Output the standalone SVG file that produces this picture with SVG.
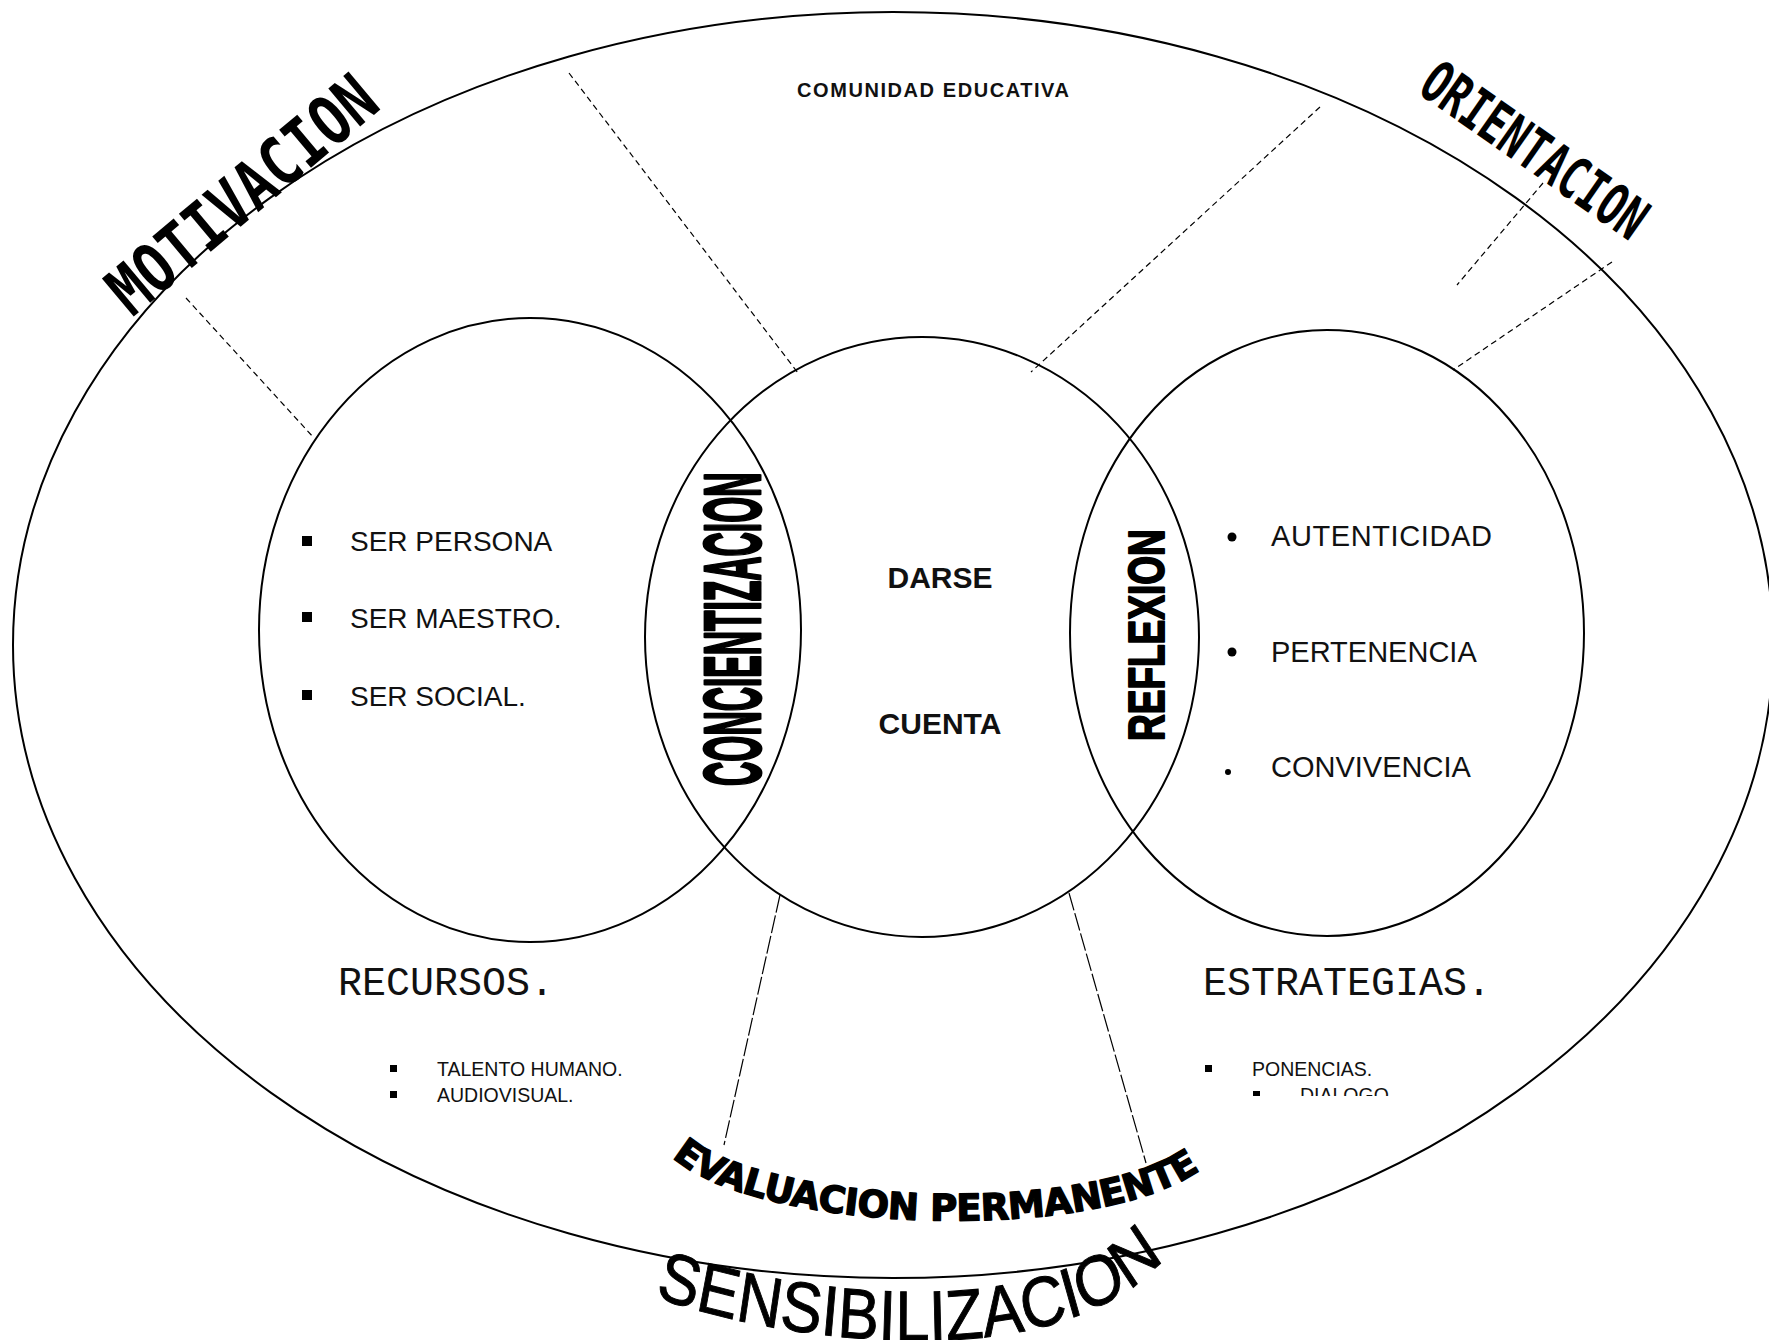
<svg xmlns="http://www.w3.org/2000/svg" width="1769" height="1340" viewBox="0 0 1769 1340">
<defs>
<style>
.ring{fill:none;stroke:#000;stroke-width:2}
.dash{fill:none;stroke:#000;stroke-width:1.2;stroke-dasharray:6 4}
.dash2{fill:none;stroke:#000;stroke-width:1.2;stroke-dasharray:18 3}
.item{font-family:"Liberation Sans",Arial,sans-serif;fill:#111}
.mono{font-family:"Liberation Mono","Courier New",monospace;fill:#111;font-size:40px}
.word{font-family:"DejaVu Sans Mono",monospace;font-weight:bold;fill:#000}
.vert{font-family:"Liberation Sans",Arial,sans-serif;font-weight:bold;fill:#000;stroke:#000;stroke-linejoin:round}
.sq{fill:#000}
</style>
<path id="p-eval" d="M 672 1157 C 760 1236 1118 1246 1210 1162"/>
<path id="p-sens" d="M 616.9 1297 C 760.6 1342 1082.4 1382 1203.1 1257"/>
<clipPath id="clip-dialogo"><rect x="1240" y="1080" width="220" height="16"/></clipPath>
</defs>
<rect width="1769" height="1340" fill="#fff"/>

<g id="comunidad-educativa">
<ellipse class="ring" cx="893" cy="645" rx="880" ry="633"/>
<text class="item" x="797" y="97" font-size="20" font-weight="bold" textLength="272" lengthAdjust="spacing">COMUNIDAD EDUCATIVA</text>
</g>

<g id="connectors">
<line class="dash" x1="186" y1="298" x2="314" y2="438"/>
<line class="dash" x1="569" y1="73" x2="798" y2="373"/>
<line class="dash" x1="1320" y1="107" x2="1031" y2="372"/>
<line class="dash" x1="1543" y1="183" x2="1457" y2="285"/>
<line class="dash" x1="1612" y1="262" x2="1453" y2="370"/>
<line class="dash2" x1="780" y1="895" x2="724" y2="1145"/>
<line class="dash2" x1="1069" y1="893" x2="1146" y2="1163"/>
</g>

<g id="circle-left">
<ellipse class="ring" cx="530" cy="630" rx="271" ry="312"/>
<rect class="sq" x="302" y="536" width="10" height="10"/>
<rect class="sq" x="302" y="612" width="10" height="10"/>
<rect class="sq" x="302" y="690" width="10" height="10"/>
<text class="item" font-size="28" x="350" y="551">SER PERSONA</text>
<text class="item" font-size="28" x="350" y="628">SER MAESTRO.</text>
<text class="item" font-size="28" x="350" y="706">SER SOCIAL.</text>
</g>

<g id="circle-center">
<ellipse class="ring" cx="922" cy="637" rx="277" ry="300"/>
<text class="item" font-size="30" font-weight="bold" x="940" y="588" text-anchor="middle">DARSE</text>
<text class="item" font-size="30" font-weight="bold" x="940" y="734" text-anchor="middle">CUENTA</text>
</g>

<g id="circle-right">
<ellipse class="ring" cx="1327" cy="633" rx="257" ry="303"/>
<circle class="sq" cx="1232" cy="537" r="4.5"/>
<circle class="sq" cx="1232" cy="652" r="4.5"/>
<circle class="sq" cx="1228" cy="772" r="3"/>
<text class="item" font-size="29" x="1271" y="546" letter-spacing="0.6">AUTENTICIDAD</text>
<text class="item" font-size="29" x="1271" y="662">PERTENENCIA</text>
<text class="item" font-size="29" x="1271" y="777">CONVIVENCIA</text>
</g>

<g id="label-concientizacion">
<text class="vert" font-size="80" stroke-width="3" transform="translate(760,786) rotate(-90) scale(0.42,1)">CONCIENTIZACION</text>
</g>
<g id="label-reflexion">
<text class="vert" font-size="50" stroke-width="2" transform="translate(1164,741) rotate(-90) scale(0.74,1)">REFLEXION</text>
</g>

<g id="label-motivacion">
<text class="word" font-size="68" transform="translate(132,318) rotate(-40) scale(0.8,1)">MOTIVACION</text>
</g>
<g id="label-orientacion">
<text class="word" font-size="58" transform="translate(1416,92) rotate(35) scale(0.68,1)">ORIENTACION</text>
</g>

<g id="recursos">
<text class="mono" x="338" y="995">RECURSOS.</text>
<rect class="sq" x="390" y="1065" width="7" height="7"/>
<rect class="sq" x="390" y="1091" width="7" height="7"/>
<text class="item" font-size="19.5" x="437" y="1076">TALENTO HUMANO.</text>
<text class="item" font-size="19.5" x="437" y="1102">AUDIOVISUAL.</text>
</g>

<g id="estrategias">
<text class="mono" x="1203" y="995">ESTRATEGIAS.</text>
<rect class="sq" x="1205" y="1065" width="7" height="7"/>
<text class="item" font-size="19.5" x="1252" y="1076">PONENCIAS.</text>
<g clip-path="url(#clip-dialogo)">
<rect class="sq" x="1253" y="1091" width="7" height="7"/>
<text class="item" font-size="19.5" x="1300" y="1102">DIALOGO</text>
</g>
</g>

<g id="label-evaluacion">
<text font-family="DejaVu Sans, sans-serif" font-weight="bold" font-size="37" letter-spacing="-0.6" fill="#000" stroke="#000" stroke-width="1.4" stroke-linejoin="round"><textPath href="#p-eval">EVALUACION PERMANENTE</textPath></text>
</g>

<g id="label-sensibilizacion">
<text font-family="Liberation Sans, Arial, sans-serif" font-size="71" fill="#000" stroke="#000" stroke-width="1" transform="translate(910,0) scale(0.87,1) translate(-910,0)"><textPath href="#p-sens">SENSIBILIZACION</textPath></text>
</g>
</svg>
